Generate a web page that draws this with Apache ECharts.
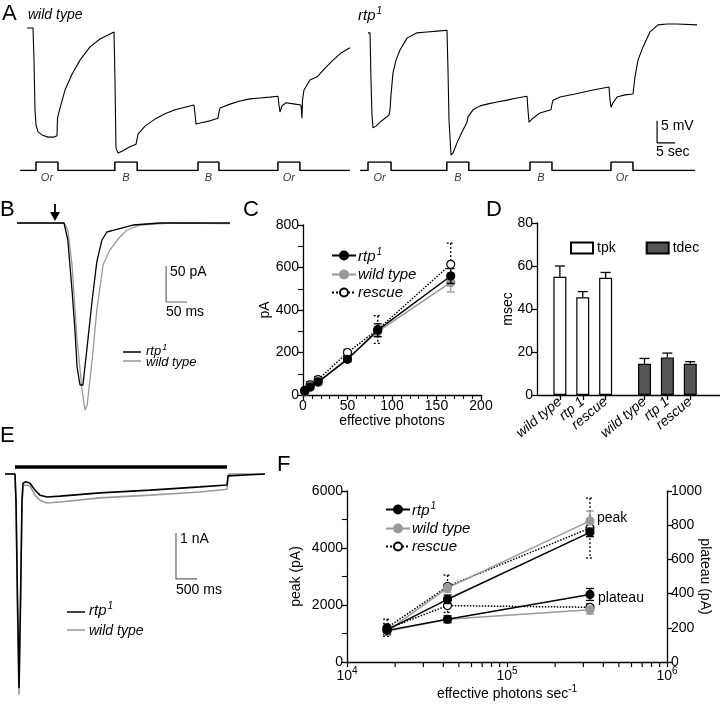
<!DOCTYPE html>
<html><head><meta charset="utf-8">
<script src="https://cdn.jsdelivr.net/npm/echarts@6/dist/echarts.min.js"></script>
<style>html,body{margin:0;padding:0;background:#fff}#c{width:720px;height:705px}</style>
</head><body><div id="c"></div>
<script>
// ---------------- DATA ----------------
// Panel A: membrane potential traces [time s, mV relative]
const aWildTrace = [[0,0],[1.67,0],[1.94,-7.3],[2.22,-18.6],[2.5,-22],[3.06,-23.6],[4.17,-24.3],[5.83,-24.8],[7.5,-24.8],[8.33,-24.5],[8.47,-20.5],[9.17,-18.2],[10.56,-14.1],[12.5,-10.5],[14.72,-7.3],[17.5,-4.3],[20.28,-2.5],[22.5,-1.6],[24.17,-0.9],[24.44,-11.8],[24.72,-27.3],[25.28,-28.4],[26.39,-28],[28.61,-27],[30.28,-26.4],[30.69,-24.8],[30.83,-24.1],[32.78,-22.3],[35.56,-20.7],[38.33,-19.5],[41.11,-18.6],[43.89,-18],[46.39,-17.5],[46.67,-19.5],[46.94,-21.8],[48.06,-21.6],[50.83,-21.1],[53.06,-20.5],[53.33,-19.1],[53.61,-18.2],[56.39,-17.3],[59.17,-16.6],[61.94,-16.1],[64.72,-15.9],[67.5,-15.7],[69.72,-15.5],[70,-17.5],[70.28,-19.1],[70.83,-17.7],[71.94,-17],[74.44,-17.3],[76.11,-17.5],[76.39,-20.5],[76.53,-16.4],[76.94,-14.1],[78.61,-11.8],[80.6,-11.1],[82.8,-9.1],[85,-7.3],[87.2,-5.7],[89.7,-4.5]];
const aRtpTrace = [[0,-1.1],[0.56,-1.1],[0.83,-11.8],[1.11,-19.8],[1.39,-22.7],[2.22,-22.3],[3.33,-21.4],[4.72,-20.5],[5.83,-19.8],[6.11,-18.6],[6.39,-15.2],[6.94,-10.2],[7.78,-7.3],[8.89,-5],[10.83,-2.3],[13.61,-1.1],[16.39,-0.9],[19.17,-0.7],[21.94,-0.5],[22.22,-9.5],[22.5,-20.9],[23.06,-28.9],[23.61,-28.4],[24.72,-26.1],[26.39,-23.2],[27.5,-21.4],[27.78,-20.2],[29.17,-18.6],[31.11,-17.7],[33.06,-17.3],[35.83,-16.8],[38.61,-16.4],[41.39,-15.9],[44.17,-15.5],[44.44,-18.6],[44.72,-21.4],[45.83,-20.5],[47.78,-19.3],[50.83,-18.6],[51.11,-17.3],[51.39,-16.4],[53.33,-15.7],[57.5,-15],[62.5,-14.1],[66.94,-13.4],[67.22,-16.4],[67.5,-18],[68.06,-17],[69.17,-15.7],[71.39,-15.2],[73.61,-15],[74.17,-11.1],[75,-7.3],[76.39,-4.3],[78.33,-0.9],[80.56,0.7],[83.06,0.9],[85.83,0.9],[91.39,0.7]];
const aWildPulses = [[2.5,8.6],[24.4,30.6],[47.5,53.3],[69.7,75.8]];
const aWildRange = [-1.9, 89.7];
const aRtpPulses = [[0,6.4],[21.9,28],[45,51.1],[67.5,73.6]];
const aRtpRange = [-2.2, 90.8];
const aPulseNames = ['Or','B','B','Or'];
const aScaleBar = {t:80.3, v:-26.1, dt:5, dv:5};

// Panel B: response currents [time ms, pA]
const bRtpTrace = [[0,0],[112,0],[121,-23.6],[131,-93],[138,-149],[143,-200],[150,-225],[157,-225],[167,-172],[179,-107],[190,-54],[202,-24],[214,-12.5],[233,-9.7],[276,-2.8],[340,0],[507,0]];
const bWildTrace = [[0,0],[112,0],[121,-9.7],[131,-58],[143,-162],[155,-232],[162,-260],[164,-262],[167,-253],[179,-190],[190,-121],[205,-58],[221,-37.5],[245,-19.4],[262,-9.7],[293,-2.8],[364,0],[507,-1]];
const bScaleBar = {t:355, i:-109.7, dt:50, di:50};

// Panel C: peak current vs effective photons
const cPhotons = [2, 8, 17, 50, 84, 166];
const cRtp = [18, 38, 62, 168, 305, 560];
const cRtpErr = [8, 10, 12, 12, 30, 35];
const cWild = [15, 35, 58, 172, 298, 530];
const cWildErr = [6, 8, 10, 10, 25, 45];
const cRescue = [22, 48, 72, 200, 308, 615];
const cRescueErr = [10, 15, 15, 15, 65, 100];

// Panel D: kinetics (msec)
const dGroups = ['wild type', 'rtp 1', 'rescue'];
const dTpkPos = [1, 2, 3];
const dTdecPos = [4.7, 5.7, 6.7];
const dTpk = [55, 45.5, 54.5];
const dTpkErr = [5, 2.6, 2.5];
const dTdec = [14.5, 17.5, 14.5];
const dTdecErr = [2.5, 2, 1];

// Panel E: prolonged light response [time ms, nA]
const eRtpTrace = [[0,0],[238,0],[262,-0.57],[298,-2.74],[333,-4.65],[369,-2.74],[405,-0.57],[429,-0.2],[500,-0.17],[595,-0.2],[714,-0.35],[833,-0.46],[1000,-0.5],[1310,-0.48],[2262,-0.41],[3452,-0.35],[4643,-0.28],[5286,-0.24],[5310,-0.04],[5333,0],[6190,0]];
const eWildTrace = [[0,0],[238,0],[262,-0.67],[298,-2.96],[333,-4.8],[369,-2.96],[405,-0.67],[429,-0.26],[500,-0.24],[595,-0.26],[714,-0.46],[833,-0.57],[1000,-0.63],[1310,-0.61],[2262,-0.52],[3452,-0.46],[4643,-0.39],[5286,-0.33],[5310,-0.07],[5333,0],[6190,0]];
const eLight = [238, 5286];
const eScaleBar = {t:4071, i:-2.28, dt:500, di:1};

// Panel F: peak and plateau vs intensity
const fPhotons = [1.78e4, 4.25e4, 3.3e5];
const fPeakRtp = [1130, 2200, 4550], fPeakRtpErr = [150, 150, 150];
const fPeakWild = [1080, 2600, 4950], fPeakWildErr = [100, 150, 350];
const fPeakRescue = [1200, 2650, 4700], fPeakRescueErr = [300, 400, 1050];
const fPlatRtp = [185, 250, 395], fPlatRtpErr = [25, 20, 35];
const fPlatWild = [180, 250, 305], fPlatWildErr = [20, 20, 25];
const fPlatRescue = [195, 330, 320], fPlatRescueErr = [30, 40, 20];
const fMinorTicks = [2e4,3e4,4e4,5e4,6e4,7e4,8e4,9e4,2e5,3e5,4e5,5e5,6e5,7e5,8e5,9e5];

// ---------------- STYLE ----------------
const FF = '"Liberation Sans", Arial, Helvetica, sans-serif';
const GRAY = '#999';
const BLACK = '#000';
const RICH = {
  i: {fontStyle:'italic', fontSize:15, fontFamily:FF, color:BLACK, verticalAlign:'bottom'},
  s: {fontStyle:'italic', fontSize:10, fontFamily:FF, color:BLACK, verticalAlign:'bottom', padding:[0,0,7,1]},
  n: {fontSize:14, fontFamily:FF, color:BLACK, verticalAlign:'bottom'},
  e: {fontSize:10, fontFamily:FF, color:BLACK, verticalAlign:'bottom', padding:[0,0,7,0]}
};
const legendText = {cR:'{i|rtp}{s|1}', cW:'{i|wild type}', cS:'{i|rescue}', fR:'{i|rtp}{s|1}', fW:'{i|wild type}', fS:'{i|rescue}'};

const pair = (xs, ys) => xs.map((x,i)=>[x, ys[i]]);
const triple = (xs, ys, es) => xs.map((x,i)=>[x, ys[i], es[i]]);
function stepLine(range, pulses){
  const d = [[range[0],0]];
  pulses.forEach(p => { d.push([p[0],0],[p[0],1],[p[1],1],[p[1],0]); });
  d.push([range[1],0]);
  return d;
}
function errRender(color, dashed, cap, upOnly){
  return function(params, api){
    const x = api.value(0), y = api.value(1), e = api.value(2);
    const pt = api.coord([x, y + e]), pb = api.coord([x, upOnly ? y : y - e]);
    const st = {stroke:color, lineWidth:1.3, lineDash: dashed ? [2,2] : null, fill:null};
    const ch = [
      {type:'line', shape:{x1:pt[0], y1:pt[1], x2:pb[0], y2:pb[1]}, style:st},
      {type:'line', shape:{x1:pt[0]-cap, y1:pt[1], x2:pt[0]+cap, y2:pt[1]}, style:st}
    ];
    if (!upOnly) ch.push({type:'line', shape:{x1:pb[0]-cap, y1:pb[1], x2:pb[0]+cap, y2:pb[1]}, style:st});
    return {type:'group', children:ch};
  };
}
function hiddenAxis(gi, min, max){ return {type:'value', gridIndex:gi, min, max, show:false}; }
function traceSeries(gi, data, color, w){
  return {type:'line', xAxisIndex:gi, yAxisIndex:gi, data, showSymbol:false, symbol:'none',
    lineStyle:{color, width:w || 1.1}, itemStyle:{color}, silent:true, z:3};
}
const plain = v => String(v);
const axisLineStyle = {show:true, lineStyle:{color:BLACK, width:1.3}};
const axisTickStyle = {show:true, inside:false, length:5, lineStyle:{color:BLACK, width:1.3}};
const axisLabelStyle = {color:BLACK, fontSize:14, fontFamily:FF, margin:4, formatter:plain};
const nameStyle = {color:BLACK, fontSize:14, fontFamily:FF};

// ---------------- GRIDS ----------------
const grids = [
  {left:19.8, top:19.2, width:331.2, height:149.6},   // 0 A wild trace
  {left:357.2, top:19.2, width:342, height:149.6},    // 1 A rtp trace
  {left:19.8, top:162, width:331.2, height:8.4},      // 2 A wild stim
  {left:357.2, top:162, width:342, height:8.4},       // 3 A rtp stim
  {left:17, top:215.8, width:214.2, height:201.6},    // 4 B
  {left:303, top:225, width:178, height:170},         // 5 C
  {left:537, top:223, width:183, height:172},         // 6 D
  {left:5, top:460.2, width:260.4, height:239.2},     // 7 E
  {left:347, top:491, width:320, height:171}          // 8 F
].map(g => Object.assign({outerBoundsMode:'none', containLabel:false, show:false}, g));

const dLabelMap = {};
dTpkPos.forEach((p,i)=>{ dLabelMap[p] = dGroups[i]; });
dTdecPos.forEach((p,i)=>{ dLabelMap[p] = dGroups[i]; });

const xAxes = [
  hiddenAxis(0, -2, 90), hiddenAxis(1, -3, 92), hiddenAxis(2, -2, 90), hiddenAxis(3, -3, 92),
  hiddenAxis(4, 0, 510),
  {type:'value', gridIndex:5, min:0, max:200, interval:50, axisLine:axisLineStyle, axisTick:axisTickStyle,
   minorTick:{show:true, splitNumber:5, length:4, lineStyle:{color:BLACK, width:1.1}},
   axisLabel:axisLabelStyle, splitLine:{show:false}, minorSplitLine:{show:false},
   name:'effective photons', nameLocation:'middle', nameGap:19, nameMoveOverlap:false, nameTextStyle:nameStyle},
  {type:'value', gridIndex:6, min:0, max:8, axisLine:axisLineStyle,
   axisTick:Object.assign({}, axisTickStyle, {customValues: dTpkPos.concat(dTdecPos)}),
   axisLabel:{color:BLACK, fontSize:14, fontFamily:FF, fontStyle:'italic', rotate:40, margin:5,
     customValues: dTpkPos.concat(dTdecPos), formatter: v => dLabelMap[v] || ''},
   splitLine:{show:false}},
  hiddenAxis(7, 0, 6200),
  {type:'log', logBase:10, gridIndex:8, min:1e4, max:1e6, axisLine:axisLineStyle, axisTick:axisTickStyle,
   axisLabel:Object.assign({}, axisLabelStyle, {rich:RICH, formatter: v => '{n|10}{e|' + Math.round(Math.log10(v)) + '}'}),
   splitLine:{show:false}, minorTick:{show:false},
   name:'{n|effective photons sec}{e|-1}', nameLocation:'middle', nameGap:22, nameMoveOverlap:false,
   nameTextStyle:Object.assign({}, nameStyle, {rich:RICH})}
];
const yAxes = [
  hiddenAxis(0, -32, 2), hiddenAxis(1, -32, 2), hiddenAxis(2, 0, 1), hiddenAxis(3, 0, 1),
  hiddenAxis(4, -270, 10),
  {type:'value', gridIndex:5, min:0, max:800, interval:200, axisLine:axisLineStyle, axisTick:axisTickStyle,
   minorTick:{show:true, splitNumber:2, length:5, lineStyle:{color:BLACK, width:1.1}},
   axisLabel:axisLabelStyle, splitLine:{show:false}, minorSplitLine:{show:false},
   name:'pA', nameLocation:'middle', nameGap:31, nameRotate:90, nameMoveOverlap:false, nameTextStyle:nameStyle},
  {type:'value', gridIndex:6, min:0, max:80, interval:20, axisLine:axisLineStyle, axisTick:axisTickStyle,
   axisLabel:axisLabelStyle, splitLine:{show:false},
   name:'msec', nameLocation:'middle', nameGap:22, nameRotate:90, nameMoveOverlap:false, nameTextStyle:nameStyle},
  hiddenAxis(7, -4.9, 0.3),
  {type:'value', gridIndex:8, min:0, max:6000, interval:2000, axisLine:axisLineStyle, axisTick:axisTickStyle,
   minorTick:{show:true, splitNumber:2, length:5, lineStyle:{color:BLACK, width:1.1}},
   axisLabel:axisLabelStyle, splitLine:{show:false}, minorSplitLine:{show:false},
   name:'peak (pA)', nameLocation:'middle', nameGap:44, nameRotate:90, nameMoveOverlap:false, nameTextStyle:nameStyle},
  {type:'value', gridIndex:8, position:'right', min:0, max:1000, interval:200, axisLine:axisLineStyle, axisTick:axisTickStyle,
   axisLabel:axisLabelStyle, splitLine:{show:false},
   name:'plateau (pA)', nameLocation:'middle', nameGap:31, nameRotate:-90, nameMoveOverlap:false, nameTextStyle:nameStyle}
];

// ---------------- SERIES ----------------
const series = [];
// A
series.push(traceSeries(0, aWildTrace, BLACK, 1.1));
series.push(traceSeries(1, aRtpTrace, BLACK, 1.1));
series.push(traceSeries(2, stepLine(aWildRange, aWildPulses), BLACK, 1.5));
series.push(traceSeries(3, stepLine(aRtpRange, aRtpPulses), BLACK, 1.5));
[[2, aWildPulses],[3, aRtpPulses]].forEach(([gi, pulses]) => {
  series.push({type:'scatter', xAxisIndex:gi, yAxisIndex:gi, symbolSize:0, silent:true,
    data: pulses.map((p,i)=>({value:[(p[0]+p[1])/2, 0], label:{formatter:aPulseNames[i]}})),
    label:{show:true, position:'bottom', distance:2, color:BLACK, fontSize:11, fontStyle:'italic', fontFamily:FF}});
});
series.push(traceSeries(1, [[aScaleBar.t, aScaleBar.v + aScaleBar.dv],[aScaleBar.t, aScaleBar.v],[aScaleBar.t + aScaleBar.dt, aScaleBar.v]], BLACK, 1.2));
// B
series.push(traceSeries(4, bWildTrace, GRAY, 1.3));
series.push(traceSeries(4, bRtpTrace, BLACK, 1.3));
series.push(traceSeries(4, [[bScaleBar.t, bScaleBar.i + bScaleBar.di],[bScaleBar.t, bScaleBar.i],[bScaleBar.t + bScaleBar.dt, bScaleBar.i]], '#666', 1.2));
// C
const cGroups = [
  {name:'cW', y:cWild, e:cWildErr, color:GRAY, fill:GRAY, dash:false},
  {name:'cS', y:cRescue, e:cRescueErr, color:BLACK, fill:'#fff', dash:true},
  {name:'cR', y:cRtp, e:cRtpErr, color:BLACK, fill:BLACK, dash:false}
];
cGroups.forEach((g, k) => {
  series.push({type:'custom', xAxisIndex:5, yAxisIndex:5, data:triple(cPhotons, g.y, g.e), encode:{x:0, y:1},
    renderItem:errRender(g.color, g.dash, 4, false), silent:true, z:2+k});
  series.push({type:'line', name:g.name, xAxisIndex:5, yAxisIndex:5, data:pair(cPhotons, g.y),
    symbol:'circle', symbolSize:8, showSymbol:true,
    lineStyle:{color:g.color, width:1.5, type:g.dash ? 'dotted' : 'solid'},
    itemStyle:{color:g.fill, borderColor:g.color, borderWidth:1.2}, silent:true, z:3+k});
});
// D
series.push({type:'bar', name:'tpk', xAxisIndex:6, yAxisIndex:6, data:pair(dTpkPos, dTpk), barWidth:13, barGap:'-100%',
  itemStyle:{color:'#fff', borderColor:BLACK, borderWidth:1.2}, silent:true});
series.push({type:'bar', name:'tdec', xAxisIndex:6, yAxisIndex:6, data:pair(dTdecPos, dTdec), barWidth:13, barGap:'-100%',
  itemStyle:{color:'#555', borderColor:BLACK, borderWidth:1.2}, silent:true});
series.push({type:'custom', xAxisIndex:6, yAxisIndex:6, data:triple(dTpkPos, dTpk, dTpkErr), encode:{x:0,y:1},
  renderItem:errRender(BLACK, false, 5, true), silent:true, z:5});
series.push({type:'custom', xAxisIndex:6, yAxisIndex:6, data:triple(dTdecPos, dTdec, dTdecErr), encode:{x:0,y:1},
  renderItem:errRender(BLACK, false, 5, true), silent:true, z:5});
// E
series.push(traceSeries(7, eWildTrace, GRAY, 1.6));
series.push(traceSeries(7, eRtpTrace, BLACK, 1.6));
series.push(traceSeries(7, eLight.map(t => [t, 0.15]), BLACK, 3.5));
series.push(traceSeries(7, [[eScaleBar.t, eScaleBar.i + eScaleBar.di],[eScaleBar.t, eScaleBar.i],[eScaleBar.t + eScaleBar.dt, eScaleBar.i]], '#666', 1.2));
// F
const fGroups = [
  {name:'fS', pk:fPeakRescue, pke:fPeakRescueErr, pl:fPlatRescue, ple:fPlatRescueErr, color:BLACK, fill:'#fff', dash:true},
  {name:'fW', pk:fPeakWild, pke:fPeakWildErr, pl:fPlatWild, ple:fPlatWildErr, color:GRAY, fill:GRAY, dash:false},
  {name:'fR', pk:fPeakRtp, pke:fPeakRtpErr, pl:fPlatRtp, ple:fPlatRtpErr, color:BLACK, fill:BLACK, dash:false}
];
fGroups.forEach((g, k) => {
  [[8, g.pk, g.pke],[9, g.pl, g.ple]].forEach(([yi, ys, es]) => {
    series.push({type:'custom', xAxisIndex:8, yAxisIndex:yi, data:triple(fPhotons, ys, es), encode:{x:0,y:1},
      renderItem:errRender(g.color, g.dash, 4, false), silent:true, z:2+k});
    series.push({type:'line', name:g.name, xAxisIndex:8, yAxisIndex:yi, data:pair(fPhotons, ys),
      symbol:'circle', symbolSize:8, showSymbol:true,
      lineStyle:{color:g.color, width:1.5, type:g.dash ? 'dotted' : 'solid'},
      itemStyle:{color:g.fill, borderColor:g.color, borderWidth:1.2}, silent:true, z:3+k});
  });
});
series.push({type:'custom', xAxisIndex:8, yAxisIndex:8, data:fMinorTicks.map(v => [v, 0]), encode:{x:0,y:1}, silent:true,
  renderItem:(params, api) => { const p = api.coord([api.value(0), 0]);
    return {type:'line', shape:{x1:p[0], y1:p[1], x2:p[0], y2:p[1]+5}, style:{stroke:BLACK, lineWidth:1.2}}; }});

// ---------------- TEXT / GRAPHIC ----------------
function txt(x, y, text, size, opts){
  return Object.assign({type:'text', x, y, silent:true,
    style:Object.assign({text, fontFamily:FF, fontSize:size, fill:BLACK, verticalAlign:'middle', textAlign:'left', rich:RICH}, opts || {})});
}
function seg(x1, y1, x2, y2, color, w){
  return {type:'line', silent:true, shape:{x1, y1, x2, y2}, style:{stroke:color, lineWidth:w || 1.5}};
}
const graphic = [
  txt(2, 14, 'A', 22), txt(28, 15, 'wild type', 14, {fontStyle:'italic'}),
  txt(358, 15, '{i|rtp}{s|1}', 14),
  txt(661, 126, '5 mV', 14), txt(656, 152, '5 sec', 14),
  txt(0, 210, 'B', 22), txt(243, 210, 'C', 22), txt(486, 210, 'D', 22), txt(0, 436, 'E', 22), txt(277, 465, 'F', 22),
  txt(170, 272, '50 pA', 14), txt(166, 312, '50 ms', 14),
  seg(123, 352, 141, 352, BLACK), seg(123, 361, 141, 361, GRAY),
  txt(146, 350, '{i|rtp}{s|1}', 13, {rich:{i:{fontStyle:'italic', fontSize:13, fontFamily:FF, verticalAlign:'bottom'}, s:{fontStyle:'italic', fontSize:9, fontFamily:FF, verticalAlign:'bottom', padding:[0,0,6,1]}}}),
  txt(146, 362, 'wild type', 13, {fontStyle:'italic'}),
  {type:'group', silent:true, children:[
    seg(55, 204, 55, 213, BLACK, 1.8),
    {type:'polygon', shape:{points:[[50,212],[60,212],[55,221]]}, style:{fill:BLACK}}
  ]},
  txt(180, 539, '1 nA', 14), txt(176, 590, '500 ms', 14),
  seg(67, 612, 85, 612, BLACK), seg(67, 630, 85, 630, GRAY),
  txt(89, 610, '{i|rtp}{s|1}', 14),
  txt(89, 631, 'wild type', 14, {fontStyle:'italic'}),
  txt(597, 518, 'peak', 14), txt(598, 598, 'plateau', 14)
];

const legendBase = {orient:'vertical', itemGap:3, itemWidth:24, itemHeight:10, selectedMode:false,
  formatter: n => legendText[n], textStyle:{rich:RICH, fontSize:15, fontFamily:FF, color:BLACK, padding:[0,0,0,-3]}};

const option = {
  animation:false,
  backgroundColor:'#fff',
  grid:grids, xAxis:xAxes, yAxis:yAxes, series, graphic,
  legend:[
    Object.assign({}, legendBase, {data:['cR','cW','cS'], left:326, top:242}),
    Object.assign({}, legendBase, {data:['fR','fW','fS'], left:380, top:496}),
    {data:['tpk','tdec'], left:565, top:236, orient:'horizontal', itemGap:30, itemWidth:22, itemHeight:11, icon:'rect',
     selectedMode:false, textStyle:{fontSize:14, fontFamily:FF, color:BLACK, padding:[0,0,0,-1]}}
  ]
};
const chart = echarts.init(document.getElementById('c'));
chart.setOption(option);
</script></body></html>
